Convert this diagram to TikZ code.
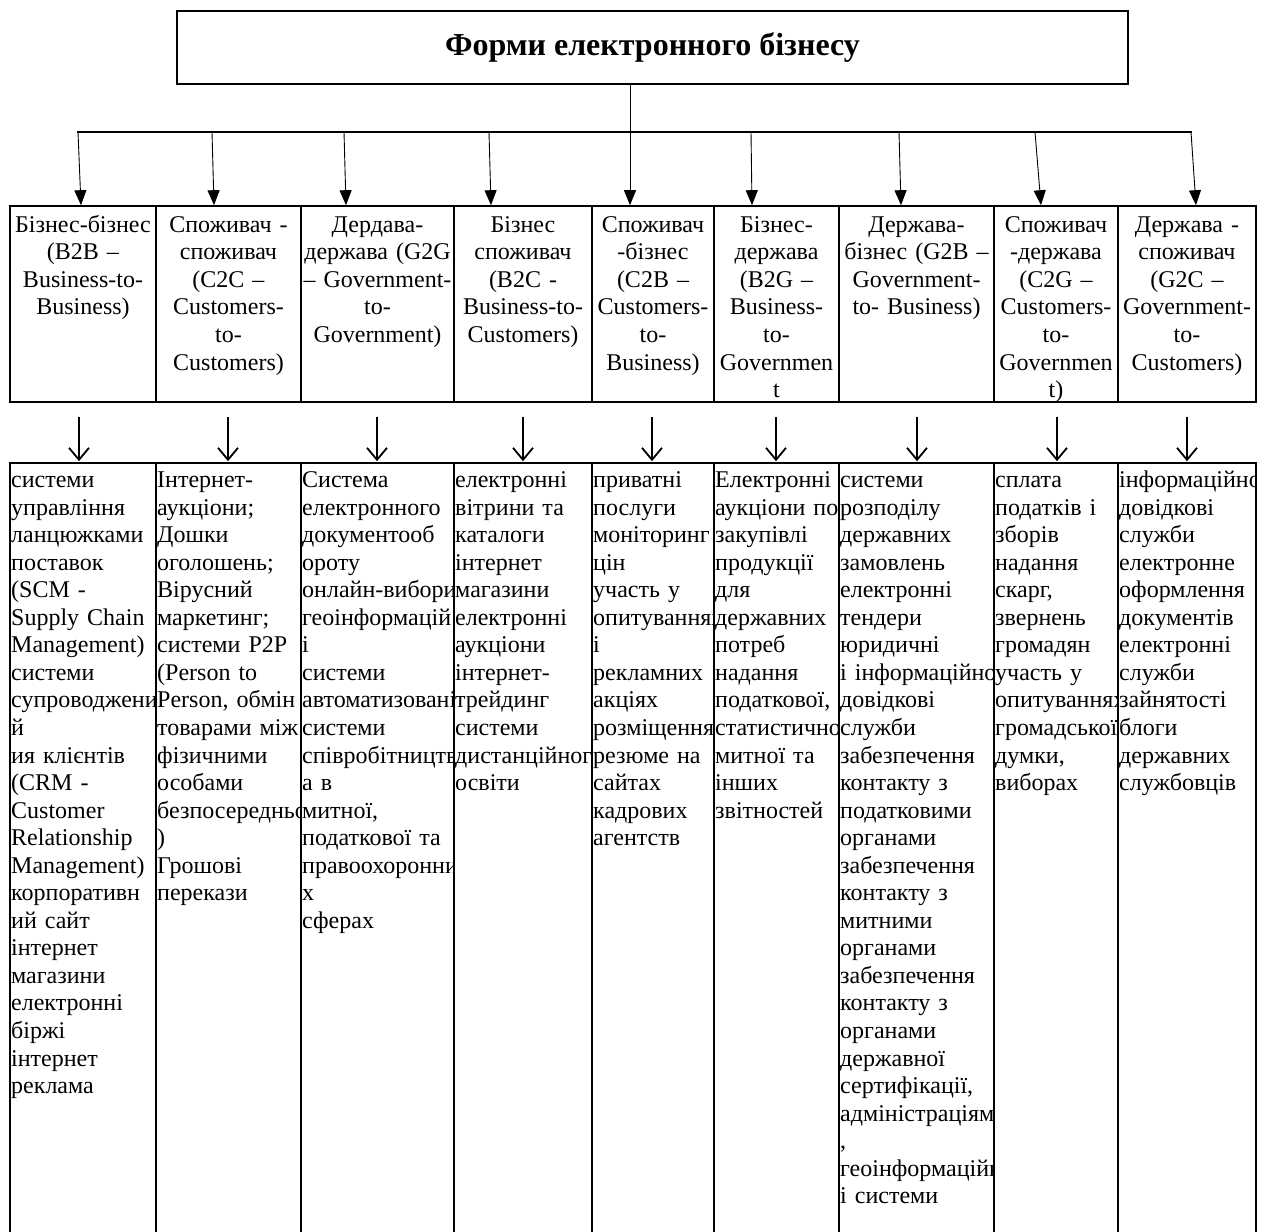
\documentclass[tikz,border=0pt]{standalone}
\usepackage{fontspec}
\setmainfont{Liberation Serif}
\usetikzlibrary{arrows.meta,calc}
\tikzset{
  titlebox/.style={draw, line width=1.3pt, minimum width=951pt, minimum height=73pt, inner sep=0pt, font=\fontsize{32}{36}\selectfont\bfseries},
  bus/.style={line width=1.4pt},
  toparrow/.style={line width=0.9pt, -{Triangle[length=15pt,width=12pt]}},
  ucell/.style={draw, line width=1.6pt, inner sep=0pt, minimum height=196pt},
  lcell/.style={draw, line width=1.6pt, inner sep=0pt, minimum height=800pt},
  utext/.style={inner sep=0pt, text width=200pt, align=center, anchor=base, font=\fontsize{24}{27.6}\selectfont},
  ltext/.style={inner sep=0pt, text width=300pt, align=left, anchor=base west, font=\fontsize{24}{27.55}\selectfont},
  lowarrow/.style={line width=1.8pt, shorten >=1pt, -{Straight Barb[length=12pt,width=20pt]}},
}
\begin{document}
\begin{tikzpicture}[x=1pt,y=-1pt]
\path[use as bounding box] (0,0) rectangle (1270,1232);
\fill[white] (0,0) rectangle (1270,1232);
\clip (0,0) rectangle (1270,1232);

% title
\node[titlebox] (t) at (652.5,47.4) {Форми електронного бізнесу};
\coordinate (j) at (630,132);
\coordinate (hl) at (77,132);
\coordinate (hr) at (1192,132);
\draw[line width=0.9pt] (t.south -| j) -- (j);
\draw[bus] (hl) -- (hr);

% cells
\foreach \i/\a/\b in {1/10/156,2/156/301,3/301/454,4/454/592,5/592/714,6/714/839,7/839/994,8/994/1118,9/1118/1256} {
  \node[ucell, minimum width={\b-\a}] (u\i) at ({(\a+\b)/2},304) {};
  \node[lcell, minimum width={\b-\a}] (l\i) at ({(\a+\b)/2},863) {};
}

% top arrows
\foreach \i/\xs/\xe in {1/78/81,2/212/214,3/344/346,4/489/491,5/630/630,6/751/752,7/899/901,8/1035/1041,9/1191/1196} {
  \coordinate (b\i) at (\xs,132);
  \draw[toparrow] (b\i) -- (\xe,0 |- u\i.north);
}

% lower arrows
\foreach \i/\xd in {1/79,2/228,3/377,4/523,5/652,6/776,7/917,8/1057,9/1187} {
  \coordinate (d\i) at (\xd,417);
  \draw[lowarrow] (d\i) -- (d\i |- l\i.north);
}

% upper texts
\node[utext] (ut1) at (83,232) {Бізнес-бізнес\\(B2B –\\Business-to-\\Business)};
\node[utext] (ut2) at (228.5,232) {Споживач -\\споживач\\(C2C –\\Customers-\\to-\\Customers)};
\node[utext] (ut3) at (377.5,232) {Дердава-\\держава (G2G\\– Government-\\to-\\Government)};
\node[utext] (ut4) at (523,232) {Бізнес\\споживач\\(B2C -\\Business-to-\\Customers)};
\node[utext] (ut5) at (653,232) {Споживач\\-бізнес\\(C2B –\\Customers-\\to-\\Business)};
\node[utext] (ut6) at (776.5,232) {Бізнес-\\держава\\(B2G –\\Business-\\to-\\Governmen\\t};
\node[utext] (ut7) at (916.5,232) {Держава-\\бізнес (G2B –\\Government-\\to- Business)};
\node[utext] (ut8) at (1056,232) {Споживач\\-держава\\(C2G –\\Customers-\\to-\\Governmen\\t)};
\node[utext] (ut9) at (1187,232) {Держава -\\споживач\\(G2C –\\Government-\\to-\\Customers)};

% lower texts
\begin{scope}
\clip (10,463) rectangle (156,1232);
\node[ltext] (lt1) at (11,487.5) {системи\\управління\\ланцюжками\\поставок\\(SCM -\\Supply Chain\\Management)\\системи\\супроводжени\\й\\ия клієнтів\\(CRM -\\Customer\\Relationship\\Management)\\корпоративн\\ий сайт\\інтернет\\магазини\\електронні\\біржі\\інтернет\\реклама};
\end{scope}
\begin{scope}
\clip (156,463) rectangle (301,1232);
\node[ltext] (lt2) at (157,487.5) {Інтернет-\\аукціони;\\Дошки\\оголошень;\\Вірусний\\маркетинг;\\системи P2P\\(Person to\\Person, обмін\\товарами між\\фізичними\\особами\\безпосередньо\\)\\Грошові\\перекази};
\end{scope}
\begin{scope}
\clip (301,463) rectangle (454,1232);
\node[ltext] (lt3) at (302,487.5) {Система\\електронного\\документооб\\ороту\\онлайн-вибори\\геоінформацій\\і\\системи\\автоматизовані\\системи\\співробітництв\\а в\\митної,\\податкової та\\правоохоронни\\х\\сферах};
\end{scope}
\begin{scope}
\clip (454,463) rectangle (592,1232);
\node[ltext] (lt4) at (455,487.5) {електронні\\вітрини та\\каталоги\\інтернет\\магазини\\електронні\\аукціони\\інтернет-\\трейдинг\\системи\\дистанційного\\освіти};
\end{scope}
\begin{scope}
\clip (592,463) rectangle (714,1232);
\node[ltext] (lt5) at (593,487.5) {приватні\\послуги\\моніторинг\\цін\\участь у\\опитуваннях\\і\\рекламних\\акціях\\розміщення\\резюме на\\сайтах\\кадрових\\агентств};
\end{scope}
\begin{scope}
\clip (714,463) rectangle (839,1232);
\node[ltext] (lt6) at (715,487.5) {Електронні\\аукціони по\\закупівлі\\продукції\\для\\державних\\потреб\\надання\\податкової,\\статистичної\\митної та\\інших\\звітностей};
\end{scope}
\begin{scope}
\clip (839,463) rectangle (994,1232);
\node[ltext] (lt7) at (840,487.5) {системи\\розподілу\\державних\\замовлень\\електронні\\тендери\\юридичні\\і інформаційно\\довідкові\\служби\\забезпечення\\контакту з\\податковими\\органами\\забезпечення\\контакту з\\митними\\органами\\забезпечення\\контакту з\\органами\\державної\\сертифікації,\\адміністраціями\\,\\геоінформаційні\\і системи};
\end{scope}
\begin{scope}
\clip (994,463) rectangle (1118,1232);
\node[ltext] (lt8) at (995,487.5) {сплата\\податків і\\зборів\\надання\\скарг,\\звернень\\громадян\\участь у\\опитуваннях\\громадської\\думки,\\виборах};
\end{scope}
\begin{scope}
\clip (1118,463) rectangle (1256,1232);
\node[ltext] (lt9) at (1119,487.5) {інформаційно\\довідкові\\служби\\електронне\\оформлення\\документів\\електронні\\служби\\зайнятості\\блоги\\державних\\службовців};
\end{scope}
\end{tikzpicture}
\end{document}
